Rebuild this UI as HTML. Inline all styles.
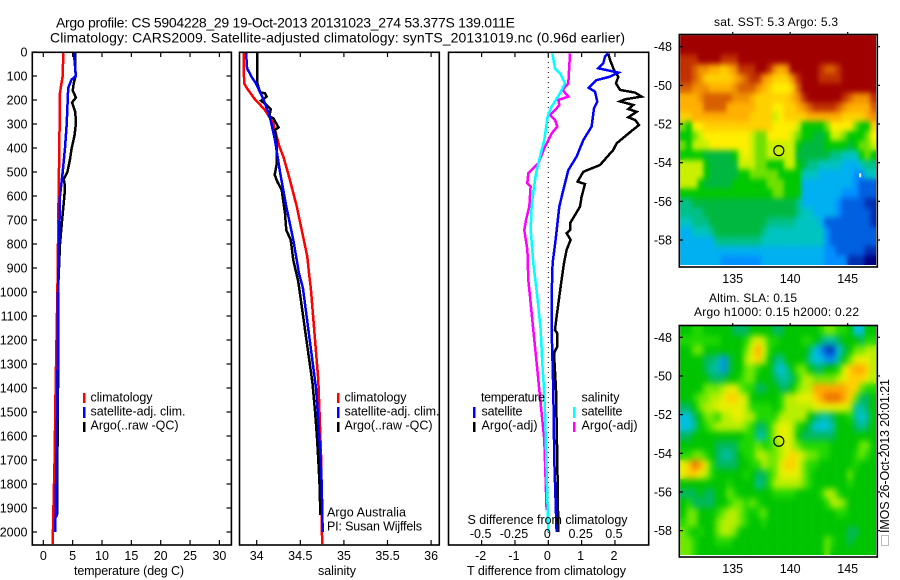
<!DOCTYPE html>
<html lang="en">
<head>
<meta charset="utf-8">
<title>Argo profile 5904228_29</title>
<style>
html,body{margin:0;padding:0;background:#fff;}
svg{display:block;}
text{font-family:"Liberation Sans",sans-serif;fill:#000;font-size:12.5px;}
.t{font-size:14px;}
.s{font-size:12px;}
</style>
</head>
<body>
<svg id="chart" xmlns="http://www.w3.org/2000/svg" width="900" height="580" viewBox="0 0 900 580">
<defs>
<filter id="soft-sst" filterUnits="userSpaceOnUse" x="680" y="35" width="196" height="230" color-interpolation-filters="sRGB">
<feGaussianBlur in="SourceGraphic" stdDeviation="2.2 2.8" result="b"/>
<feMerge><feMergeNode in="SourceGraphic"/><feMergeNode in="b"/></feMerge>
</filter>
<filter id="soft-sla" filterUnits="userSpaceOnUse" x="680" y="326" width="196" height="229" color-interpolation-filters="sRGB">
<feGaussianBlur in="SourceGraphic" stdDeviation="3 3.5" result="b"/>
<feMerge><feMergeNode in="SourceGraphic"/><feMergeNode in="b"/></feMerge>
</filter>
</defs>
<rect x="0" y="0" width="900" height="580" fill="#fff"/>
<text class="t" x="56" y="27.500" textLength="459">Argo profile: CS 5904228_29 19-Oct-2013 20131023_274 53.377S 139.011E</text>
<text class="t" x="50" y="42.500" textLength="575">Climatology: CARS2009. Satellite-adjusted climatology: synTS_20131019.nc (0.96d earlier)</text>

<g id="heat-sst" filter="url(#soft-sst)"></g>
<g id="heat-sla" filter="url(#soft-sla)"></g>
<g id="series"></g>
<g id="axes"></g>

<g>
<rect x="83" y="393" width="2.500" height="10" fill="#f00"/>
<rect x="83" y="407" width="2.500" height="11" fill="#00f"/>
<rect x="83" y="422" width="2.500" height="10" fill="#000"/>
<text x="90.500" y="401.500" textLength="62">climatology</text>
<text x="90.500" y="415.500" textLength="95">satellite-adj. clim.</text>
<text x="90.500" y="429.500" textLength="88">Argo(..raw -QC)</text>
</g>
<g>
<rect x="337" y="393" width="2.500" height="10" fill="#f00"/>
<rect x="337" y="407" width="2.500" height="11" fill="#00f"/>
<rect x="337" y="422" width="2.500" height="10" fill="#000"/>
<text x="344.500" y="401.500" textLength="62">climatology</text>
<text x="344.500" y="415.500" textLength="95">satellite-adj. clim.</text>
<text x="344.500" y="429.500" textLength="88">Argo(..raw -QC)</text>
<text x="327" y="516.500" textLength="79">Argo Australia</text>
<text x="327" y="530.500" textLength="95">PI: Susan Wijffels</text>
</g>
<g>
<text x="481" y="401.500" textLength="64">temperature</text>
<text x="481.500" y="415.500" textLength="41">satellite</text>
<text x="481.500" y="429.500" textLength="56">Argo(-adj)</text>
<rect x="473" y="407" width="2.500" height="11" fill="#00f"/>
<rect x="473" y="422" width="2.500" height="10" fill="#000"/>
<text x="581.500" y="401.500" textLength="38">salinity</text>
<text x="581.500" y="415.500" textLength="41">satellite</text>
<text x="581.500" y="429.500" textLength="56">Argo(-adj)</text>
<rect x="573" y="407" width="2.500" height="11" fill="#0ff"/>
<rect x="573" y="422" width="2.500" height="10" fill="#f0f"/>
</g>

<text x="74" y="575" textLength="110">temperature (deg C)</text>
<text x="318" y="575" textLength="38">salinity</text>
<text x="467" y="575" textLength="159">T difference from climatology</text>
<text x="467.500" y="524" textLength="160">S difference from climatology</text>

<text class="s" x="714" y="26" textLength="124">sat. SST: 5.3 Argo: 5.3</text>
<text class="s" x="709" y="302" textLength="88">Altim. SLA: 0.15</text>
<text class="s" x="694" y="316" textLength="165">Argo h1000: 0.15 h2000: 0.22</text>

<rect x="881.500" y="535.500" width="7" height="10" fill="#fff" stroke="#777" stroke-width="1" stroke-dasharray="1 1"/>
<text transform="translate(889,533) rotate(-90)" x="0" y="0" textLength="154">IMOS 26-Oct-2013 20:01:21</text>
</svg>

<script>
/* ---------- temperature panel values ---------- */
var tempClimDepth = [0,100,130,170,400,600,1000,1400,1700,1850,2050];
var tempClimValue = [3.4,3.3,3.1,2.84,2.72,2.6,2.4,2.1,1.93,1.77,1.6];
var tempSatDepth = [0,100,115,150,300,400,500,600,1000,1400,1600,1800,2000];
var tempSatValue = [5.2,5.56,4.8,4.25,3.98,3.7,3.3,2.84,2.5,2.4,2.3,2.16,2.05];
var tempArgoDepth = [0,100,130,160,190,210,250,300,350,400,450,500,530,560,600,700,800,1000,1400,1650,1935];
var tempArgoValue = [5.4,5.5,5.2,5.0,5.56,4.9,5.45,5.56,5.3,4.83,4.54,4.1,3.5,3.7,3.6,3.2,2.85,2.5,2.5,2.42,2.33];

/* ---------- salinity panel values ---------- */
var salClimDepth = [0,130,145,193,242,297,394,436,505,575,644,714,783,853,922,983,1367,1500,1700,2050];
var salClimValue = [33.85,33.855,33.877,33.97,34.095,34.19,34.26,34.305,34.36,34.41,34.46,34.5,34.54,34.58,34.6,34.62,34.706,34.72,34.74,34.75];
var salSatDepth = [0,68,103,130,200,269,367,505,644,783,922,983,1400,1500,1700,1800,2000];
var salSatValue = [33.877,33.89,33.94,33.99,34.08,34.15,34.21,34.27,34.34,34.42,34.485,34.53,34.68,34.7,34.734,34.745,34.757];
var salArgoDepth = [0,130,168,172,186,203,221,239,269,276,314,325,381,464,512,540,575,672,742,783,867,957,1380,1500,1600,1700,1800,1930];
var salArgoValue = [34.007,34.007,34.04,34.095,34.115,34.05,34.115,34.16,34.145,34.19,34.25,34.21,34.23,34.23,34.206,34.236,34.287,34.325,34.34,34.39,34.42,34.477,34.64,34.67,34.69,34.706,34.72,34.73];

/* ---------- difference panel values ---------- */
var diffTSatDepth = [6,19,47,68,86,103,117,149,165,207,235,311,367,436,492,575,644,783,880,1019,1158,1254,1408,1700,2000];
var diffTSatValue = [1.8,1.7,1.65,1.5,2.1,1.85,1.45,1.21,1.4,1.47,1.37,1.3,1.05,0.85,0.6,0.45,0.33,0.22,0.13,0.1,0.1,0.12,0.15,0.18,0.25];
var diffTArgoDepth = [6,33,75,103,131,158,169,186,197,206,221,238,249,272,283,304,346,381,408,471,499,540,550,603,644,679,714,742,755,783,825,880,937,1019,1103,1158,1172,1227,1254,1408,1700,2000];
var diffTArgoValue = [1.8,1.85,1.97,2.1,2.03,2.15,2.6,2.8,2.3,2.15,2.55,2.4,2.65,2.4,2.6,2.72,2.35,2.05,1.95,1.55,1.05,0.88,1.1,1.0,0.95,0.8,0.65,0.65,0.55,0.67,0.55,0.47,0.41,0.33,0.25,0.2,0.27,0.27,0.17,0.23,0.27,0.3];
var diffSSatDepth = [6,68,89,131,172,228,269,367,436,506,575,644,742,880,1019,1158,1297,1408,1506,2000];
var diffSSatValue = [0.03,0.05,0.0875,0.125,0.0875,0.025,-0.005,-0.03,-0.0625,-0.0925,-0.11,-0.125,-0.132,-0.1125,-0.0825,-0.057,-0.045,-0.032,-0.025,0];
var diffSArgoDepth = [6,131,158,186,200,221,242,263,283,311,339,394,464,506,547,561,644,700,742,825,950,1019,1158,1297,1408,1617,1908];
var diffSArgoValue = [0.1625,0.15,0.1075,0.15,0.075,0.0825,0.05,0.0125,0.05,0.0675,0.025,-0.025,-0.075,-0.15,-0.1575,-0.1325,-0.1425,-0.1675,-0.18,-0.157,-0.15,-0.1375,-0.1125,-0.087,-0.0675,-0.03,-0.0125];

/* ---------- tick labels ---------- */
var depthTicks = [0,100,200,300,400,500,600,700,800,900,1000,1100,1200,1300,1400,1500,1600,1700,1800,1900,2000];
var tempTicks = [0,5,10,15,20,25,30];
var salTicks = [34,34.5,35,35.5,36];
var diffTTicks = [-2,-1,0,1,2];
var diffSTicks = [-0.5,-0.25,0,0.25,0.5];
var lonTicks = [135,140,145];
var latTicks = [-48,-50,-52,-54,-56,-58];

/* ---------- float position ---------- */
var floatLon = [139.011];
var floatLat = [-53.377];
var missingLon = [146.0];
var missingLat = [-54.55];

/* ---------- map colour levels (row by row, north to south, 0.5 deg columns) ---------- */
var sstRows = [
[0,0,0,0,0,0,0,0,0,0,0,0,0,0,0,0,0,0,0,0,0,0,0,0,0,0,0,0,0,0,0,0,0,0],
[0,0,0,0,0,0,0,0,0,0,0,0,0,0,0,0,0,0,0,0,0,0,0,0,0,0,0,0,0,0,0,0,0,0],
[1,1,1,0,0,0,0,1,1,1,0,0,0,0,0,0,0,0,0,0,0,0,0,0,0,0,0,0,0,0,0,0,0,0],
[1,1,2,3,3,4,4,5,4,3,1,1,1,0,0,1,3,4,3,0,0,0,0,0,1,2,2,1,0,0,0,0,0,0],
[1,1,2,3,5,5,5,5,5,4,3,2,1,1,3,4,5,5,5,3,1,0,0,0,1,1,1,1,0,0,0,0,0,0],
[2,2,3,3,3,4,4,4,4,3,2,2,2,3,4,5,6,6,6,5,2,0,0,0,0,0,0,0,0,0,0,0,0,0],
[4,4,4,3,2,2,2,2,2,3,3,3,4,5,5,5,5,5,5,4,3,1,0,0,0,0,0,0,1,2,3,3,3,1],
[4,4,4,4,2,2,2,2,4,4,4,4,4,5,5,5,6,6,5,5,4,3,2,1,1,1,1,2,3,4,4,4,4,2],
[5,5,4,4,4,4,4,4,4,4,4,4,5,5,5,5,7,6,5,5,5,5,4,4,4,4,4,4,5,5,5,5,4,3],
[8,9,6,6,5,5,5,5,5,5,5,5,5,5,5,5,6,6,6,6,7,9,9,9,9,8,6,6,6,6,8,9,9,5],
[9,9,8,7,6,6,6,6,6,6,6,6,7,8,8,6,6,6,6,7,8,9,9,10,10,9,7,7,8,9,9,9,8,6],
[8,9,7,7,7,6,6,6,6,6,6,6,7,8,8,7,7,7,7,7,9,10,10,10,10,9,9,9,9,10,9,8,8,7],
[9,9,9,9,10,10,10,10,10,9,7,6,7,8,8,7,7,7,7,7,10,10,10,10,10,10,11,11,12,12,12,9,8,9],
[7,7,7,7,9,10,10,10,10,10,7,7,7,8,8,9,9,9,7,7,9,10,11,11,12,12,12,12,13,13,13,12,11,11],
[7,7,7,7,9,10,10,10,10,10,9,9,8,8,8,8,8,9,9,9,9,12,12,12,13,13,13,13,13,13,14,14,12,12],
[7,7,7,9,10,10,10,10,10,9,9,9,9,9,9,8,8,8,9,9,9,13,13,13,13,13,13,13,13,13,14,15,15,15],
[9,9,9,9,9,9,9,9,9,9,9,9,9,9,9,9,8,8,9,9,9,13,13,13,13,13,13,13,14,14,14,15,15,15],
[11,11,10,10,10,10,10,10,10,10,10,10,10,10,10,10,10,10,10,10,11,13,13,13,13,13,13,14,15,15,15,15,16,16],
[11,11,11,11,10,10,10,10,10,10,10,10,10,10,10,10,10,10,10,10,11,12,12,13,13,13,13,14,15,15,15,15,15,16],
[12,12,11,11,11,10,10,10,10,10,10,10,10,10,10,11,11,11,11,11,12,12,12,12,13,15,15,15,15,15,15,15,15,16],
[13,13,12,12,12,11,10,10,10,10,10,10,10,10,11,12,12,12,12,12,12,12,12,12,12,14,15,15,15,15,15,15,15,15],
[13,13,13,13,13,13,11,11,11,11,11,11,11,11,12,12,12,12,12,12,12,12,12,12,12,14,15,15,15,15,15,15,15,15],
[13,13,13,13,13,13,13,13,13,13,13,13,13,13,13,13,13,13,13,13,13,13,13,13,13,14,14,15,15,15,15,15,16,16],
[13,13,13,13,13,13,13,14,14,14,14,14,14,14,13,13,13,13,13,13,13,13,13,13,13,14,14,14,14,16,16,16,17,17]
];
var slaRows = [
[5,5,6,6,5,5,5,5,5,4,4,4,5,5,5,5,4,4,5,5,5,5,5,5,6,7,7,6,6,5,2,2,5,5],
[6,6,6,6,6,6,6,5,5,5,5,6,8,9,8,6,6,5,5,5,5,6,6,5,4,3,3,4,5,5,5,4,6,6],
[5,5,7,7,5,5,5,5,5,5,5,7,9,11,9,6,5,5,5,5,5,5,4,2,1,0,0,2,4,5,7,7,8,8],
[5,5,5,5,4,4,3,1,4,5,5,8,9,10,8,5,4,3,5,5,5,5,3,2,2,1,1,3,5,7,9,9,9,8],
[5,5,5,5,4,3,3,1,4,5,5,7,7,6,5,5,3,2,3,5,7,7,5,4,4,5,5,6,9,10,11,11,10,8],
[5,5,5,5,5,4,4,4,5,5,6,7,7,5,5,5,4,3,3,4,6,8,8,7,7,7,7,8,9,10,10,10,9,8],
[5,5,5,5,7,7,7,8,9,9,7,6,6,4,4,5,5,4,4,5,7,8,8,11,11,11,11,11,11,10,10,7,6,6],
[5,5,6,7,7,8,8,9,10,10,9,8,5,5,5,5,5,6,8,8,9,9,9,10,11,12,12,12,11,10,7,4,4,5],
[4,4,5,7,8,8,9,9,9,9,9,8,6,6,6,6,5,6,8,8,8,8,8,9,9,9,9,9,9,8,3,3,4,5],
[2,2,4,5,7,7,6,8,8,9,9,8,8,6,6,6,6,8,8,8,8,8,5,4,3,3,4,5,5,6,3,2,3,5],
[2,2,3,5,6,7,8,8,8,8,8,7,6,4,4,6,8,9,9,8,6,5,4,2,2,2,3,5,5,5,4,3,4,5],
[4,4,5,5,5,5,5,5,5,5,5,6,6,3,3,6,8,9,9,8,5,4,4,4,4,4,4,5,5,5,5,5,5,5],
[5,5,5,5,5,5,4,4,4,4,6,6,6,7,6,6,7,8,9,8,7,6,6,6,6,6,5,5,5,5,5,7,7,5],
[6,6,7,7,6,5,4,3,3,4,5,6,6,8,8,7,7,8,9,10,9,8,7,7,6,6,5,5,5,5,6,7,6,5],
[9,10,12,11,9,6,4,4,4,4,5,5,6,6,8,7,7,9,10,10,9,7,6,6,5,5,5,5,5,5,6,5,5,5],
[9,10,10,9,8,6,5,5,5,5,5,6,5,4,4,6,7,9,9,9,9,7,6,5,5,5,5,5,5,7,5,5,5,5],
[5,5,5,5,5,5,5,5,6,5,5,5,5,3,4,6,8,8,8,8,8,7,6,5,5,5,5,5,5,6,5,5,5,5],
[4,4,4,5,4,4,5,5,7,6,5,5,5,5,5,5,6,6,6,6,5,5,5,5,6,8,8,6,5,5,5,5,5,5],
[5,6,4,4,4,4,5,5,6,7,7,6,7,6,5,5,5,5,5,5,5,5,5,5,5,6,8,8,7,5,5,5,5,5],
[5,7,7,5,5,5,6,7,8,8,7,6,5,6,7,5,5,5,5,5,5,5,5,5,5,5,5,6,6,5,5,5,5,5],
[6,7,7,5,5,5,7,8,8,8,7,6,5,5,6,5,5,5,5,5,5,5,5,5,5,5,5,5,5,5,5,5,5,5],
[7,6,5,6,5,5,7,8,8,7,5,5,5,5,5,5,5,5,5,5,5,5,5,5,5,5,5,5,5,4,4,5,5,5],
[7,7,6,5,5,5,6,6,6,5,5,5,5,5,5,5,5,5,5,5,5,5,5,5,5,7,6,5,5,4,5,5,5,5],
[7,7,6,5,5,5,5,5,5,5,5,5,5,5,5,5,5,5,5,5,5,5,5,5,5,7,5,5,5,5,5,5,5,5]
];
var sstColours = ["#a00000","#c03000","#d86000","#f09000","#ffb000","#ffd000","#ffee00","#c8f000","#70e000","#00c800","#00b840","#00c088","#00c4c0","#00b0f0","#0090ff","#0060e0","#0030b0","#000080"];
var slaColours = ["#0040c0","#0090f0","#00c0e0","#00c0a0","#00b860","#00c400","#20d800","#70e800","#b8ee00","#e8f000","#ffd000","#ffa800","#f07000"];

var NS = "http://www.w3.org/2000/svg";

/* ---------- axis functions ---------- */
function yDepth(d){ return 52 + d * 0.24; }
function xTemp(t){ return 43.3 + t * 5.87; }
function xSal(s){ return 256.7 + (s - 34) * 87.2; }
function xDiffT(t){ return 548.3 + t * 33.33; }
function xDiffS(s){ return 548.3 + s * 133.3; }
function xLon(lon){ return 732.7 + (lon - 135) * 11.5; }
function ySst(lat){ return 46.7 + (-48 - lat) * 19.33; }
function ySla(lat){ return 337.3 + (-48 - lat) * 19.33; }

function drawLine(parent, name, depths, values, xf, colour, width){
  var pts = [];
  for (var i = 0; i < depths.length; i++) {
    pts.push(xf(values[i]).toFixed(1) + "," + yDepth(depths[i]).toFixed(1));
  }
  var el = document.createElementNS(NS, "polyline");
  
  
  el.setAttribute("points", pts.join(" "));
  el.setAttribute("fill", "none");
  el.setAttribute("stroke", colour);
  el.setAttribute("stroke-width", width);
  el.setAttribute("shape-rendering", "crispEdges");
  parent.appendChild(el);
}

function drawFrame(parent, name, x0, y0, x1, y1){
  var el = document.createElementNS(NS, "rect");
  
  
  el.setAttribute("x", x0);
  el.setAttribute("y", y0);
  el.setAttribute("width", x1 - x0);
  el.setAttribute("height", y1 - y0);
  el.setAttribute("fill", "none");
  el.setAttribute("stroke", "#000");
  el.setAttribute("stroke-width", "1.6");
  parent.appendChild(el);
}

function drawTick(parent, name, x1, y1, x2, y2){
  var el = document.createElementNS(NS, "line");
  
  
  el.setAttribute("x1", x1);
  el.setAttribute("y1", y1);
  el.setAttribute("x2", x2);
  el.setAttribute("y2", y2);
  el.setAttribute("stroke", "#000");
  el.setAttribute("stroke-width", "1.2");
  parent.appendChild(el);
}

function drawLabel(parent, name, x, y, anchor, content){
  var el = document.createElementNS(NS, "text");
  
  
  el.setAttribute("x", x);
  el.setAttribute("y", y);
  el.setAttribute("text-anchor", anchor);
  el.textContent = content;
  parent.appendChild(el);
}

function drawHeat(parent, name, rows, colours, yf){
  var lonStart = 130.45, latStart = -47.42, lonStep = 0.5, latStep = 0.495;
  for (var r = 0; r < rows.length; r++) {
    for (var c = 0; c < rows[r].length; c++) {
      var x0 = xLon(lonStart + c * lonStep);
      var x1 = xLon(lonStart + (c + 1) * lonStep);
      var y0 = yf(latStart - r * latStep);
      var y1 = yf(latStart - (r + 1) * latStep);
      var el = document.createElementNS(NS, "rect");
      
      
      el.setAttribute("x", x0.toFixed(2));
      el.setAttribute("y", y0.toFixed(2));
      el.setAttribute("width", (x1 - x0 + 0.3).toFixed(2));
      el.setAttribute("height", (y1 - y0 + 0.3).toFixed(2));
      el.setAttribute("fill", colours[rows[r][c]]);
      parent.appendChild(el);
    }
  }
}

function drawMarker(parent, name, cx, cy){
  var el = document.createElementNS(NS, "circle");
  
  
  el.setAttribute("cx", cx);
  el.setAttribute("cy", cy);
  el.setAttribute("r", "5");
  el.setAttribute("fill", "none");
  el.setAttribute("stroke", "#000");
  el.setAttribute("stroke-width", "1.2");
  parent.appendChild(el);
}

var series = document.getElementById("series");
var axes = document.getElementById("axes");

/* maps */
drawHeat(document.getElementById("heat-sst"), "sst-cell", sstRows, sstColours, ySst);
drawHeat(document.getElementById("heat-sla"), "sla-cell", slaRows, slaColours, ySla);

var gap = document.createElementNS(NS, "rect");


gap.setAttribute("x", xLon(missingLon[0]));
gap.setAttribute("y", ySst(missingLat[0]));
gap.setAttribute("width", "2");
gap.setAttribute("height", "4");
gap.setAttribute("fill", "#fff");
axes.appendChild(gap);

/* profile series */
drawLine(series, "temperature-climatology-line", tempClimDepth, tempClimValue, xTemp, "#f00", 2.5);
drawLine(series, "temperature-argo-line", tempArgoDepth, tempArgoValue, xTemp, "#000", 2.5);
drawLine(series, "temperature-satellite-line", tempSatDepth, tempSatValue, xTemp, "#00f", 2.5);

drawLine(series, "salinity-climatology-line", salClimDepth, salClimValue, xSal, "#f00", 2.5);
drawLine(series, "salinity-argo-line", salArgoDepth, salArgoValue, xSal, "#000", 2.5);
drawLine(series, "salinity-satellite-line", salSatDepth, salSatValue, xSal, "#00f", 2.5);

var zeroLine = document.createElementNS(NS, "line");


zeroLine.setAttribute("x1", xDiffT(0));
zeroLine.setAttribute("x2", xDiffT(0));
zeroLine.setAttribute("y1", "52");
zeroLine.setAttribute("y2", "545");
zeroLine.setAttribute("stroke", "#000");
zeroLine.setAttribute("stroke-width", "1");
zeroLine.setAttribute("stroke-dasharray", "1 4");
series.appendChild(zeroLine);

drawLine(series, "difference-t-argo-line", diffTArgoDepth, diffTArgoValue, xDiffT, "#000", 2.5);
drawLine(series, "difference-t-satellite-line", diffTSatDepth, diffTSatValue, xDiffT, "#00f", 2.5);
drawLine(series, "difference-s-argo-line", diffSArgoDepth, diffSArgoValue, xDiffS, "#f0f", 2.5);
drawLine(series, "difference-s-satellite-line", diffSSatDepth, diffSSatValue, xDiffS, "#0ff", 2.5);

/* panel frames */
drawFrame(axes, "temperature-panel-frame", 32.3, 52.3, 231.4, 545);
drawFrame(axes, "salinity-panel-frame", 239.5, 52.3, 439.3, 545);
drawFrame(axes, "difference-panel-frame", 448.5, 52.3, 648.7, 545);
drawFrame(axes, "sst-map-frame", 679.3, 34.5, 877.3, 267);
drawFrame(axes, "sla-map-frame", 679.3, 325.5, 877.3, 557);

/* depth axis */
depthTicks.forEach(function(d){
  var y = yDepth(d);
  drawTick(axes, "depth-tick-left", 32.3, y, 37, y);
  drawTick(axes, "depth-tick-right", 226.5, y, 231.4, y);
  drawLabel(axes, "depth-tick-label", 27.5, y + 4.5, "end", String(d));
});

/* x axes */
tempTicks.forEach(function(v){
  var x = xTemp(v);
  drawTick(axes, "temperature-tick-top", x, 52.3, x, 57);
  drawTick(axes, "temperature-tick-bottom", x, 540, x, 545);
  drawLabel(axes, "temperature-tick-label", x, 560, "middle", String(v));
});
salTicks.forEach(function(v){
  var x = xSal(v);
  drawTick(axes, "salinity-tick-top", x, 52.3, x, 57);
  drawTick(axes, "salinity-tick-bottom", x, 540, x, 545);
  drawLabel(axes, "salinity-tick-label", x, 560, "middle", String(v));
});
diffTTicks.forEach(function(v){
  var x = xDiffT(v);
  drawTick(axes, "t-difference-tick-top", x, 52.3, x, 57);
  drawTick(axes, "t-difference-tick-bottom", x, 540, x, 545);
  drawLabel(axes, "t-difference-tick-label", x - 1, 560, "middle", String(v));
});
diffSTicks.forEach(function(v){
  var x = xDiffS(v);
  drawLabel(axes, "s-difference-tick-label", x - 1, 538, "middle", String(v));
});

/* map axes */
lonTicks.forEach(function(v){
  var x = xLon(v);
  drawTick(axes, "sst-lon-tick", x, 32, x, 34.5);
  drawLabel(axes, "sst-lon-label", x, 283, "middle", String(v));
  drawTick(axes, "sla-lon-tick", x, 323, x, 325.5);
  drawLabel(axes, "sla-lon-label", x, 573, "middle", String(v));
});
latTicks.forEach(function(v){
  var y1 = ySst(v);
  var y2 = ySla(v);
  drawTick(axes, "sst-lat-tick-left", 679.3, y1, 683, y1);
  drawTick(axes, "sst-lat-tick-right", 877.3, y1, 880, y1);
  drawLabel(axes, "sst-lat-label", 672, y1 + 4.5, "end", String(v));
  drawTick(axes, "sla-lat-tick-left", 679.3, y2, 683, y2);
  drawTick(axes, "sla-lat-tick-right", 877.3, y2, 880, y2);
  drawLabel(axes, "sla-lat-label", 672, y2 + 4.5, "end", String(v));
});

/* float markers */
drawMarker(axes, "sst-float-position", xLon(floatLon[0]), ySst(floatLat[0]));
drawMarker(axes, "sla-float-position", xLon(floatLon[0]), ySla(floatLat[0]));
</script>
</body>
</html>
